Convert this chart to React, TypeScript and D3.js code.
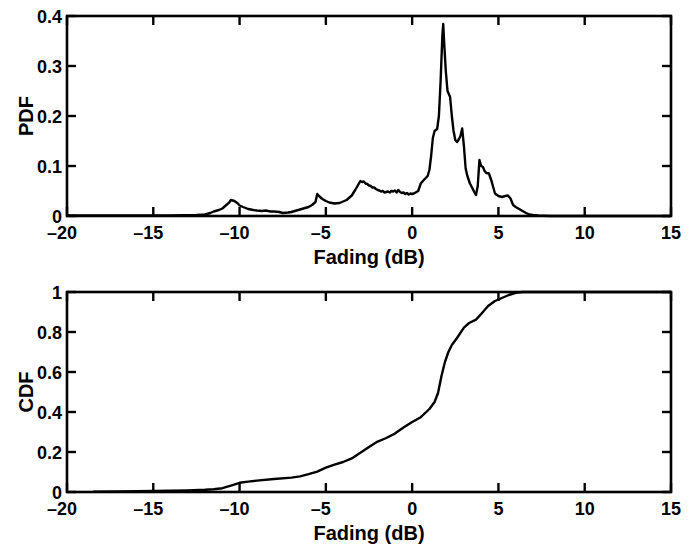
import React from 'react'
import * as d3 from 'd3'

// Fading (dB) sample points and the values
const pdfX = [-20, -18, -16, -14, -12.5, -12, -11.7, -11.5, -11.2, -11, -10.8, -10.6, -10.5, -10.3, -10.1, -10, -9.8, -9.5, -9.2, -9, -8.7, -8.5, -8.2, -8, -7.7, -7.5, -7.2, -7, -6.7, -6.5, -6.2, -6, -5.8, -5.6, -5.5, -5.4, -5.2, -5, -4.8, -4.5, -4.2, -4, -3.8, -3.5, -3.3, -3.1,
  -3.0, -2.9, -2.8, -2.7, -2.6, -2.5, -2.4, -2.3, -2.2, -2.1, -2.0, -1.9, -1.8, -1.7, -1.6, -1.5, -1.4, -1.3, -1.2, -1.1, -1.0, -0.9, -0.8, -0.7, -0.6, -0.5, -0.4, -0.3, -0.2, -0.1, 0, 0.1, 0.2, 0.35,
  0.5, 0.7, 0.9, 1.0, 1.1, 1.2, 1.3, 1.45, 1.55, 1.65, 1.75, 1.8, 1.85, 1.95, 2.05, 2.2, 2.3, 2.4, 2.5, 2.6, 2.7, 2.8, 2.9, 3.0, 3.1, 3.2, 3.35, 3.5, 3.6, 3.7, 3.8, 3.9, 4.0, 4.1, 4.2, 4.3, 4.45, 4.6, 4.8, 5.0, 5.2, 5.4, 5.55, 5.7, 5.85, 6.0, 6.2, 6.4, 6.6, 6.8, 7.0, 7.3, 7.6, 8, 10, 15]
const pdfY = [0.001, 0.001, 0.001, 0.001, 0.002, 0.003, 0.006, 0.009, 0.012, 0.015, 0.021, 0.027, 0.032, 0.030, 0.025, 0.021, 0.018, 0.014, 0.012, 0.011, 0.010, 0.011, 0.009, 0.009, 0.008, 0.006, 0.007, 0.008, 0.011, 0.013, 0.016, 0.018, 0.022, 0.028, 0.044, 0.040, 0.034, 0.030, 0.027, 0.025, 0.026, 0.029, 0.032, 0.041, 0.052, 0.064,
  0.070, 0.068, 0.069, 0.065, 0.064, 0.061, 0.060, 0.057, 0.057, 0.054, 0.052, 0.051, 0.049, 0.050, 0.047, 0.048, 0.049, 0.047, 0.050, 0.049, 0.051, 0.047, 0.052, 0.048, 0.046, 0.047, 0.044, 0.046, 0.043, 0.045, 0.044, 0.045, 0.047, 0.050,
  0.065, 0.073, 0.080, 0.092, 0.120, 0.156, 0.170, 0.174, 0.200, 0.270, 0.360, 0.384, 0.350, 0.290, 0.250, 0.238, 0.200, 0.170, 0.152, 0.148, 0.153, 0.160, 0.175, 0.140, 0.095, 0.080, 0.065, 0.055, 0.048, 0.042, 0.060, 0.112, 0.100, 0.098, 0.090, 0.086, 0.085, 0.070, 0.045, 0.040, 0.038, 0.040, 0.041, 0.035, 0.022, 0.018, 0.014, 0.010, 0.006, 0.003, 0.002, 0.001, 0.0005, 0, 0, 0]

const cdfX = [-18.5, -17, -15, -13, -12, -11.5, -11, -10.5, -10, -9.5, -9, -8, -7, -6.5, -6, -5.5, -5, -4.5, -4, -3.5, -3, -2.5, -2, -1.5, -1, -0.5, 0, 0.5, 1, 1.3, 1.5, 1.7, 1.9, 2.1, 2.3, 2.6, 3.0, 3.3, 3.7, 4.0, 4.4, 4.8, 5.2, 5.6, 6.0, 6.4, 6.8, 8, 10, 15]
const cdfY = [0.001, 0.003, 0.005, 0.008, 0.011, 0.014, 0.019, 0.032, 0.046, 0.052, 0.057, 0.065, 0.072, 0.078, 0.089, 0.102, 0.122, 0.137, 0.150, 0.168, 0.196, 0.225, 0.252, 0.270, 0.292, 0.322, 0.350, 0.374, 0.415, 0.450, 0.495, 0.580, 0.650, 0.700, 0.735, 0.770, 0.822, 0.845, 0.862, 0.890, 0.930, 0.955, 0.970, 0.985, 0.996, 1.0, 1.0, 1.0, 1.0, 1.0]

const xTicks = [-20, -15, -10, -5, 0, 5, 10, 15]
const pdfTicks = [0, 0.1, 0.2, 0.3, 0.4]
const cdfTicks = [0, 0.2, 0.4, 0.6, 0.8, 1]

const font = "'Liberation Sans', Arial, Helvetica, sans-serif"
const tickSize = 18

function Panel(props: { top: number, bottom: number, xs: number[], ys: number[], yMax: number, yTicks: number[], yLabel: string, xLabelY: number }) {
  const { top, bottom, xs, ys, yMax, yTicks, yLabel, xLabelY } = props
  const left = 67, right = 671
  const x = d3.scaleLinear().domain([-20, 15]).range([left, right])
  const y = d3.scaleLinear().domain([0, yMax]).range([bottom, top])
  const line = d3.line<number>()
    .x((d, i) => x(xs[i]))
    .y(d => y(d))
  const tl = 9
  return (
    <g>
      <path d={line(ys) || ''} fill="none" stroke="#000" strokeWidth={2.4} strokeLinejoin="round" />
      {xTicks.map(t => {
        const digits = String(Math.abs(t))
        const half = digits.length * 0.556 * tickSize / 2
        return (
          <g key={'x' + t}>
            <line x1={x(t)} x2={x(t)} y1={bottom} y2={bottom - tl} stroke="#000" strokeWidth={2.4} />
            <line x1={x(t)} x2={x(t)} y1={top} y2={top + tl} stroke="#000" strokeWidth={2.4} />
            <text x={x(t)} y={bottom + 23} textAnchor="middle" fontSize={tickSize} fontWeight="bold" fontFamily={font}>
              {digits}
            </text>
            {t < 0 && (
              <text x={x(t) - half} y={bottom + 23} textAnchor="end" fontSize={tickSize} fontWeight="bold" fontFamily={font}>
                {'\u2013'}
              </text>
            )}
          </g>
        )
      })}
      {yTicks.map(t => (
        <g key={'y' + t}>
          <line x1={left} x2={left + tl} y1={y(t)} y2={y(t)} stroke="#000" strokeWidth={2.4} />
          <line x1={right} x2={right - tl} y1={y(t)} y2={y(t)} stroke="#000" strokeWidth={2.4} />
          <text x={left - 5} y={y(t) + 6.5} textAnchor="end" fontSize={tickSize} fontWeight="bold" fontFamily={font}>
            {String(t)}
          </text>
        </g>
      ))}
      <rect x={left} y={top} width={right - left} height={bottom - top} fill="none" stroke="#000" strokeWidth={2.6} />
      <text x={(left + right) / 2} y={xLabelY} textAnchor="middle" fontSize={20} fontWeight="bold" fontFamily={font}>
        Fading (dB)
      </text>
      <text transform={`translate(33,${(top + bottom) / 2}) rotate(-90)`} textAnchor="middle" fontSize={20} fontWeight="bold" fontFamily={font}>
        {yLabel}
      </text>
    </g>
  )
}

export default function App() {
  return (
    <div style={{ position: 'absolute', left: 0, top: 0 }}>
      <svg width={698} height={549} style={{ display: 'block', background: '#fff' }}>
        <Panel top={16} bottom={216} xs={pdfX} ys={pdfY} yMax={0.4} yTicks={pdfTicks} yLabel="PDF" xLabelY={264} />
        <Panel top={292} bottom={492} xs={cdfX} ys={cdfY} yMax={1} yTicks={cdfTicks} yLabel="CDF" xLabelY={540} />
      </svg>
    </div>
  )
}
